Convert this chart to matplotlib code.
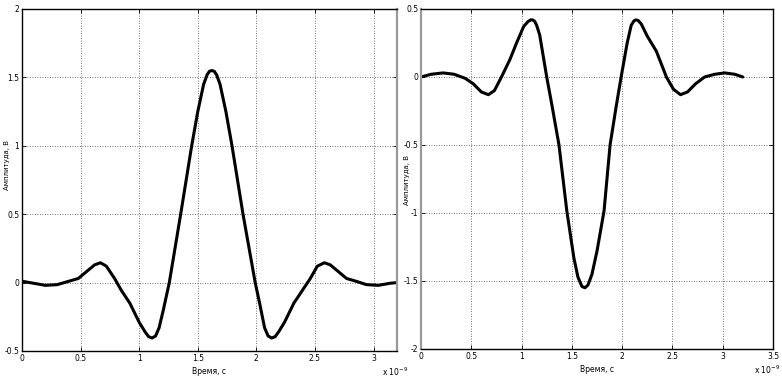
import matplotlib
matplotlib.use("Agg")
import matplotlib.pyplot as plt

# Left: signal
t_left = [0.00, 0.10, 0.20, 0.30, 0.40, 0.48, 0.55, 0.62, 0.67, 0.72, 0.79, 0.85,
          0.92, 1.00, 1.05, 1.08, 1.11, 1.14, 1.17, 1.206, 1.257, 1.354, 1.448, 1.50,
          1.55, 1.58, 1.60, 1.62, 1.64, 1.66, 1.69, 1.74, 1.792, 1.886, 1.99, 2.03,
          2.07, 2.10, 2.13, 2.16, 2.19, 2.24, 2.32, 2.39, 2.46, 2.52, 2.58, 2.63,
          2.70, 2.77, 2.85, 2.94, 3.04, 3.14, 3.20]
v_left = [0.01, -0.005, -0.02, -0.015, 0.01, 0.03, 0.08, 0.13, 0.145, 0.12, 0.03, -0.06,
          -0.15, -0.29, -0.36, -0.395, -0.405, -0.39, -0.33, -0.20, 0.00, 0.50, 1.00, 1.25,
          1.45, 1.52, 1.545, 1.55, 1.545, 1.52, 1.45, 1.25, 1.00, 0.50, 0.00, -0.16,
          -0.33, -0.39, -0.405, -0.395, -0.36, -0.29, -0.15, -0.06, 0.03, 0.12, 0.145, 0.13,
          0.08, 0.03, 0.01, -0.015, -0.02, -0.005, 0.00]

# Right: derivative-like signal
t_right = [0.00, 0.10, 0.22, 0.33, 0.44, 0.52, 0.60, 0.67, 0.73, 0.80, 0.885, 0.95,
           1.02, 1.06, 1.09, 1.11, 1.13, 1.15, 1.18, 1.25, 1.30, 1.372, 1.45, 1.52,
           1.56, 1.60, 1.63, 1.66, 1.70, 1.75, 1.82, 1.88, 1.94, 1.99, 2.05, 2.09,
           2.12, 2.14, 2.16, 2.19, 2.25, 2.34, 2.44, 2.51, 2.58, 2.65, 2.73, 2.82,
           2.92, 3.02, 3.12, 3.20]
v_right = [0.00, 0.02, 0.03, 0.02, -0.01, -0.05, -0.11, -0.13, -0.10, 0.00, 0.13, 0.25,
           0.37, 0.405, 0.42, 0.42, 0.41, 0.38, 0.31, 0.00, -0.20, -0.50, -0.985, -1.33,
           -1.47, -1.54, -1.55, -1.53, -1.45, -1.28, -0.985, -0.50, -0.22, 0.00, 0.25, 0.38,
           0.415, 0.42, 0.415, 0.39, 0.30, 0.19, 0.00, -0.09, -0.13, -0.11, -0.05, 0.00,
           0.02, 0.03, 0.02, 0.00]

x_ticks_left = [0, 0.5, 1, 1.5, 2, 2.5, 3]
x_labels_left = ["0", "0.5", "1", "1.5", "2", "2.5", "3"]
y_ticks_left = [-0.5, 0, 0.5, 1, 1.5, 2]
y_labels_left = ["-0.5", "0", "0.5", "1", "1.5", "2"]

x_ticks_right = [0, 0.5, 1, 1.5, 2, 2.5, 3, 3.5]
x_labels_right = ["0", "0.5", "1", "1.5", "2", "2.5", "3", "3.5"]
y_ticks_right = [-2, -1.5, -1, -0.5, 0, 0.5]
y_labels_right = ["-2", "-1.5", "-1", "-0.5", "0", "0.5"]

ylabel = "Амплитуда, В"
xlabel = "Время, с"
exponent = r"x 10$^{-9}$"

plt.rcParams['font.family'] = ['DejaVu Sans']
W, H = 782, 381
fig = plt.figure(figsize=(W / 100, H / 100), dpi=100)
fig.patch.set_facecolor("white")

def setup(ax, xt, xl, yt, yl, xlim, ylim, grey_side):
    ax.set_xlim(*xlim)
    ax.set_ylim(*ylim)
    ax.set_xticks(xt)
    ax.set_xticklabels(xl, fontsize=5.5)
    ax.set_yticks(yt)
    ax.set_yticklabels(yl, fontsize=5.5)
    ax.tick_params(direction="in", length=3, width=0.6, top=True, right=True, pad=2)
    ax.grid(True, linestyle=(0, (1, 2)), color="#444444", linewidth=0.6)
    for s in ax.spines.values():
        s.set_linewidth(1.0)
        s.set_color("black")
    ax.spines[grey_side].set_color("#999999")
    ax.spines[grey_side].set_linewidth(1.6)

ax1 = fig.add_axes([22 / W, 1 - 351 / H, 375 / W, 342 / H])
ax1.plot(t_left, v_left, color="black", linewidth=2.2, solid_joinstyle="round",
         solid_capstyle="round")
setup(ax1, x_ticks_left, x_labels_left, y_ticks_left, y_labels_left, (0, 3.2), (-0.5, 2), "right")
ax1.set_xlabel(xlabel, fontsize=5.5, labelpad=3)

ax2 = fig.add_axes([421 / W, 1 - 349 / H, 352 / W, 340 / H])
ax2.plot(t_right, v_right, color="black", linewidth=2.2, solid_joinstyle="round",
         solid_capstyle="round")
setup(ax2, x_ticks_right, x_labels_right, y_ticks_right, y_labels_right, (0, 3.5), (-2, 0.5), "left")
ax2.set_xlabel(xlabel, fontsize=5.5, labelpad=3)

fig.text(7 / W, 1 - 165 / H, ylabel, fontsize=5, rotation=90, ha="center", va="center")
fig.text(407 / W, 1 - 180 / H, ylabel, fontsize=5, rotation=90, ha="center", va="center")

fig.text(382 / W, 1 - 372 / H, exponent, fontsize=5.5, ha="left", va="center")
fig.text(754 / W, 1 - 370 / H, exponent, fontsize=5.5, ha="left", va="center")

fig.savefig("out.png", dpi=100, facecolor="white")
